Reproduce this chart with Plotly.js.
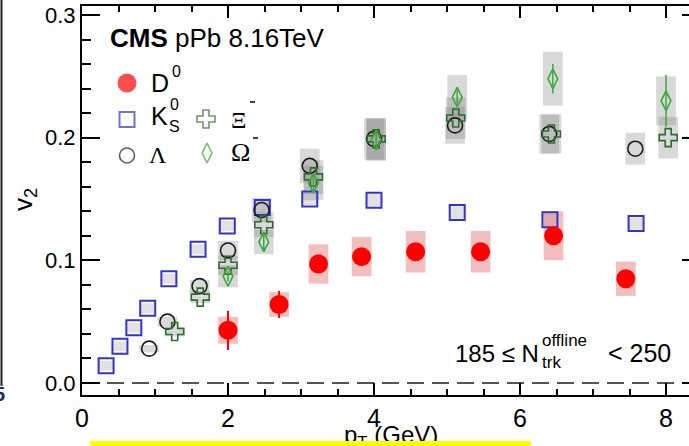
<!DOCTYPE html>
<html>
<head>
<meta charset="utf-8">
<script src="https://cdn.plot.ly/plotly-3.0.1.min.js"></script>
<style>
  html, body { margin: 0; padding: 0; background: #ffffff; overflow: hidden; }
  #wrap { position: relative; width: 689px; height: 446px; overflow: hidden; }
  #chart { position: absolute; left: 0; top: 0; width: 720px; height: 446px; }
  #band { position: absolute; left: 90px; top: 441px; width: 441px; height: 5px; background: #ffff00; }
</style>
</head>
<body>
<div id="wrap"><div id="chart"></div><div id="band"></div></div>
<script>
// v2 vs pT, pPb 8.16 TeV, 185 <= N_trk^offline < 250

// D0 mesons
const ptD0   = [2.00, 2.70, 3.24, 3.83, 4.57, 5.46, 6.46, 7.45];
const v2D0   = [0.043, 0.064, 0.097, 0.103, 0.107, 0.107, 0.120, 0.085];
const statD0 = [0.016, 0.011, 0.005, 0.005, 0.005, 0.005, 0.006, 0.006];
const sysD0  = [0.011, 0.010, 0.016, 0.016, 0.017, 0.017, 0.020, 0.014];

// K0S
const ptK0S  = [0.33, 0.52, 0.71, 0.90, 1.19, 1.59, 1.99, 2.47, 3.12, 4.00, 5.14, 6.41, 7.59];
const v2K0S  = [0.014, 0.030, 0.045, 0.061, 0.085, 0.109, 0.128, 0.143, 0.150, 0.149, 0.139, 0.133, 0.130];
const sysK0S = [0.004, 0.004, 0.004, 0.004, 0.004, 0.004, 0.004, 0.005, 0.005, 0.005, 0.005, 0.005, 0.005];

// Lambda
const ptLam  = [0.92, 1.17, 1.61, 2.00, 2.46, 3.12, 4.00, 5.11, 6.40, 7.58];
const v2Lam  = [0.028, 0.050, 0.079, 0.108, 0.141, 0.177, 0.199, 0.210, 0.203, 0.191];
const sysLam = [0.003, 0.004, 0.005, 0.008, 0.010, 0.014, 0.017, 0.015, 0.016, 0.013];

// Xi-
const ptXi   = [1.27, 1.62, 2.00, 2.49, 3.17, 4.03, 5.12, 6.43, 8.03];
const v2Xi   = [0.042, 0.070, 0.096, 0.129, 0.168, 0.199, 0.216, 0.203, 0.200];
const sysXi  = [0.004, 0.005, 0.008, 0.010, 0.014, 0.017, 0.017, 0.016, 0.017];

// Omega-
const ptOm   = [2.00, 2.49, 3.17, 4.03, 5.14, 6.45, 8.00];
const v2Om   = [0.087, 0.115, 0.163, 0.198, 0.233, 0.248, 0.230];
const statOm = [0.004, 0.006, 0.006, 0.006, 0.006, 0.012, 0.021];
const sysOm  = [0.009, 0.010, 0.014, 0.017, 0.018, 0.022, 0.020];

const xTicks = [0, 2, 4, 6, 8];
const yTicks = [0.0, 0.1, 0.2, 0.3];

// frame geometry (pixels inside the 720 x 446 figure)
const L = 82, R = 700, T = 6, B = 395;
const fx = p => (p - L) / (R - L);
const fy = p => (B - p) / (B - T);

const SANS = 'Liberation Sans, Arial, Helvetica, sans-serif';
const SERIF = 'Liberation Serif, Times New Roman, serif';

const colD0 = '#ff0000', colK = '#3434c8', colLam = '#1a1a1a', colXi = '#2f6b2f', colOm = '#3aa83a';

// systematic boxes
function sysBoxes(xs, ys, es, hw, fill) {
  return xs.map((x, i) => ({
    type: 'rect', xref: 'x', yref: 'y', layer: 'below',
    x0: x - hw, x1: x + hw, y0: ys[i] - es[i], y1: ys[i] + es[i],
    fillcolor: fill, line: { width: 0 }
  }));
}
const grey = 'rgba(120,120,120,0.28)';
const shapes = [].concat(
  sysBoxes(ptK0S, v2K0S, sysK0S, 0.10, 'rgba(120,120,140,0.22)'),
  sysBoxes(ptLam, v2Lam, sysLam, 0.135, grey),
  sysBoxes(ptXi, v2Xi, sysXi, 0.135, grey),
  sysBoxes(ptOm, v2Om, sysOm, 0.135, grey),
  sysBoxes(ptD0, v2D0, sysD0, 0.135, 'rgba(215,40,40,0.30)')
);
// dashed zero line
shapes.push({ type: 'line', xref: 'paper', yref: 'y', x0: 0, x1: 1, y0: 0, y1: 0,
  layer: 'below', line: { color: '#555555', width: 2, dash: '17px,8px' } });
// edge of the neighbouring panel
shapes.push({ type: 'line', xref: 'paper', yref: 'paper', x0: fx(1.5), x1: fx(1.5), y0: fy(0), y1: fy(386),
  line: { color: '#202020', width: 2 } });
// raised minus signs of the Xi and Omega labels
shapes.push({ type: 'line', xref: 'paper', yref: 'paper', x0: fx(250), x1: fx(255), y0: fy(102), y1: fy(102),
  line: { color: '#000', width: 1.5 } });
shapes.push({ type: 'line', xref: 'paper', yref: 'paper', x0: fx(253), x1: fx(258), y0: fy(138), y1: fy(138),
  line: { color: '#000', width: 1.5 } });

const traces = [
  { x: ptK0S, y: v2K0S, type: 'scatter', mode: 'markers', cliponaxis: false,
    marker: { symbol: 'square-open', size: 15, color: colK, line: { width: 2, color: colK } } },
  { x: ptLam, y: v2Lam, type: 'scatter', mode: 'markers', cliponaxis: false,
    marker: { symbol: 'circle-open', size: 15, color: colLam, line: { width: 1.6, color: colLam } } },
  { x: ptXi, y: v2Xi, type: 'scatter', mode: 'markers', cliponaxis: false,
    marker: { symbol: 'cross-open', size: 15, color: colXi, line: { width: 1.6, color: colXi } } },
  { x: ptOm, y: v2Om, type: 'scatter', mode: 'markers', cliponaxis: false,
    error_y: { type: 'data', array: statOm, width: 0, thickness: 1.5, color: colOm },
    marker: { symbol: 'diamond-tall-open', size: 14, color: colOm, line: { width: 1.6, color: colOm } } },
  { x: ptD0, y: v2D0, type: 'scatter', mode: 'markers', cliponaxis: false,
    error_y: { type: 'data', array: statD0, width: 0, thickness: 2, color: colD0 },
    marker: { symbol: 'circle', size: 19, color: colD0, line: { width: 0 } } }
];

// legend keys, placed in frame pixels on an overlay axis pair
const keyX = [127, 127, 206, 127, 207];
const keyY = [83, 119.5, 119, 155.5, 153];
traces.push({
  x: keyX, y: keyY, xaxis: 'x2', yaxis: 'y2', type: 'scatter', mode: 'markers', cliponaxis: false,
  marker: {
    symbol: ['circle', 'square-open', 'cross-open', 'circle-open', 'diamond-tall-open'],
    size: [19, 15, 15, 15, 14],
    color: [colD0, colK, colXi, colLam, colOm],
    line: { width: [0, 2, 1.6, 1.6, 1.6], color: [colD0, colK, colXi, colLam, colOm] }
  }
});

function txt(text, x, y, size, opts) {
  return Object.assign({
    text: text, xref: 'paper', yref: 'paper', x: fx(x), y: fy(y),
    xanchor: 'left', yanchor: 'middle', showarrow: false,
    font: { family: SANS, size: size, color: '#000000' }
  }, opts || {});
}

const annotations = [
  txt('<b>CMS</b> pPb 8.16TeV', 108, 38, 26),
  txt('D', 149, 83, 25),
  txt('0', 170, 71, 16),
  txt('K', 149, 116, 25),
  txt('0', 168, 104, 16),
  txt('S', 167, 127, 16),
  txt('\u039e', 229, 120, 24, { font: { family: SERIF, size: 24, color: '#000' } }),
  txt('\u039b', 147, 155, 24, { font: { family: SERIF, size: 24, color: '#000' } }),
  txt('\u03a9', 229, 153, 26, { font: { family: SERIF, size: 26, color: '#000' } }),
  txt('185 \u2264 N', 541, 353, 24, { xanchor: 'right' }),
  txt('offline', 540, 340, 17),
  txt('trk', 540, 362, 17),
  txt('< 250', 673, 353, 25, { xanchor: 'right' }),
  txt('v<sub>2</sub>', 24, 200, 26, { xanchor: 'center', textangle: -90 }),
  txt('p<sub>T</sub> (GeV)', 391, 436, 24, { xanchor: 'center' }),
  txt('<b>5</b>', -8, 394, 20, { font: { family: SANS, size: 20, color: '#1c2d6b' } })
];

const axisCommon = {
  showgrid: false, zeroline: false, showline: true, linecolor: '#000', linewidth: 2,
  mirror: 'ticks', ticks: 'inside', tickcolor: '#000', tickwidth: 2
};

const layout = {
  width: 720, height: 446,
  margin: { l: L, r: 720 - R, t: T, b: 446 - B, pad: 0 },
  paper_bgcolor: '#ffffff', plot_bgcolor: '#ffffff',
  showlegend: false,
  xaxis: Object.assign({}, axisCommon, {
    range: [0, (R - L) / 73], tickvals: xTicks, ticktext: xTicks.map(String), ticklen: 12,
    tickfont: { family: SANS, size: 25, color: '#000' },
    minor: { dtick: 0.5, ticklen: 6, tickwidth: 2, tickcolor: '#000', ticks: 'inside' }
  }),
  yaxis: Object.assign({}, axisCommon, {
    range: [-12 / 1227, 0.3 + 9 / 1227], tickvals: yTicks, ticktext: yTicks.map(v => v.toFixed(1)),
    ticklen: 18, tickfont: { family: SANS, size: 22, color: '#000' },
    minor: { dtick: 0.02, ticklen: 9, tickwidth: 2, tickcolor: '#000', ticks: 'inside' }
  }),
  xaxis2: { overlaying: 'x', range: [L, R], visible: false, fixedrange: true },
  yaxis2: { overlaying: 'y', range: [B, T], visible: false, fixedrange: true },
  shapes: shapes,
  annotations: annotations
};

Plotly.newPlot('chart', traces, layout, { staticPlot: true, displayModeBar: false });
</script>
</body>
</html>
